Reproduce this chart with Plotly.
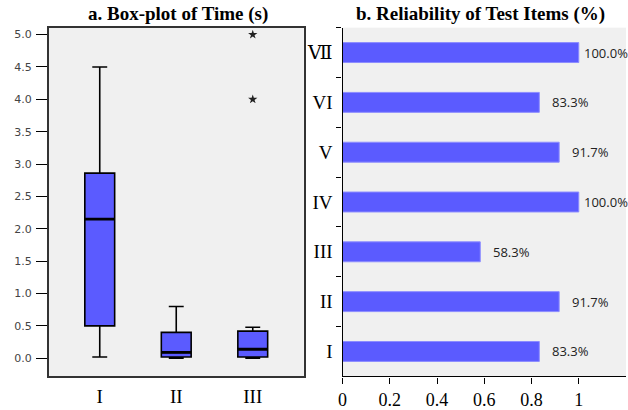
import plotly.graph_objects as go

# ---- data: panel a (box-plot of time, seconds) ----
box_cats = ["I", "II", "III"]
box_q1 = [0.50, 0.02, 0.02]
box_median = [2.15, 0.09, 0.14]
box_q3 = [2.86, 0.40, 0.42]
box_low = [0.02, 0.00, 0.00]
box_high = [4.50, 0.80, 0.48]
outlier_cats = ["III", "III"]
outlier_vals = [4.0, 5.0]

# ---- data: panel b (reliability of test items) ----
item_cats = ["I", "II", "III", "IV", "V", "VI", "Ⅶ"]
item_vals = [0.833, 0.917, 0.583, 1.000, 0.917, 0.833, 1.000]
item_labels = ["83.3%", "91.7%", "58.3%", "100.0%", "91.7%", "83.3%", "100.0%"]
x_ticks = [0, 0.2, 0.4, 0.6, 0.8, 1]
x_ticktext = ["0", "0.2", "0.4", "0.6", "0.8", "1"]

BLUE = "#5B5BFF"
SERIF = "Liberation Serif, DejaVu Serif, Times New Roman, serif"
BOX_W = 0.39
X_RANGE = [-0.667, 2.667]

W, H = 628, 410


def px(x):
    return x / W


def py(y):
    return 1 - y / H


fig = go.Figure()

fig.add_trace(go.Box(
    x=box_cats, q1=box_q1, median=box_median, q3=box_q3,
    lowerfence=box_low, upperfence=box_high,
    boxpoints=False, width=BOX_W, whiskerwidth=0.5,
    fillcolor=BLUE, line=dict(color="black", width=1.6),
    xaxis="x", yaxis="y", showlegend=False, hoverinfo="skip"))

# thicker median bars drawn on an overlaid numeric axis (category index positions)
med_x, med_y = [], []
for i, m in enumerate(box_median):
    med_x += [i - BOX_W / 2, i + BOX_W / 2, None]
    med_y += [m, m, None]
fig.add_trace(go.Scatter(
    x=med_x, y=med_y, mode="lines", line=dict(color="black", width=2.8),
    xaxis="x3", yaxis="y", showlegend=False, hoverinfo="skip"))

fig.add_trace(go.Scatter(
    x=outlier_cats, y=outlier_vals, mode="markers",
    marker=dict(symbol="star", size=7, color="#222"),
    xaxis="x", yaxis="y", showlegend=False))

fig.add_trace(go.Bar(
    x=item_vals, y=item_cats, orientation="h", width=0.4,
    marker=dict(color=BLUE, line=dict(color="#8C8CFF", width=1)),
    xaxis="x2", yaxis="y2", showlegend=False))

annotations = []
for c, v, t in zip(item_cats, item_vals, item_labels):
    annotations.append(dict(
        x=v, y=c, xref="x2", yref="y2", text=t, showarrow=False,
        xanchor="left", yanchor="middle", xshift=3 if v >= 0.999 else 11,
        font=dict(family="Open Sans, sans-serif", size=13, color="#222")))

annotations.append(dict(
    x=px(175), y=py(14), xref="paper", yref="paper",
    text="<b>a. Box-plot of Time (s)</b>", showarrow=False,
    xanchor="center", yanchor="middle",
    font=dict(family=SERIF, size=19, color="black")))
annotations.append(dict(
    x=px(480), y=py(14), xref="paper", yref="paper",
    text="<b>b. Reliability of Test Items (%)</b>", showarrow=False,
    xanchor="center", yanchor="middle",
    font=dict(family=SERIF, size=19, color="black")))

ydom = [py(381), py(28)]

fig.update_layout(
    width=W, height=H,
    margin=dict(l=0, r=0, t=0, b=0),
    paper_bgcolor="white",
    annotations=annotations,
    xaxis=dict(
        domain=[px(45), px(301.7)], type="category",
        range=X_RANGE, showgrid=False, zeroline=False,
        showline=True, mirror=True, linecolor="#333", linewidth=1.5,
        ticks="", ticklabelstandoff=2,
        tickfont=dict(family=SERIF, size=19, color="black"),
        anchor="y"),
    xaxis3=dict(
        domain=[px(45), px(301.7)], range=X_RANGE, overlaying="x",
        visible=False, anchor="y"),
    yaxis=dict(
        domain=ydom, range=[-0.279, 5.107],
        tickvals=[0, 0.5, 1, 1.5, 2, 2.5, 3, 3.5, 4, 4.5, 5],
        ticktext=["0.0", "0.5", "1.0", "1.5", "2.0", "2.5", "3.0", "3.5", "4.0", "4.5", "5.0"],
        showgrid=False, zeroline=False,
        showline=True, mirror=True, linecolor="#333", linewidth=1.5,
        ticks="outside", ticklen=11, tickcolor="black", tickwidth=1.3,
        ticklabelstandoff=2,
        tickfont=dict(family="DejaVu Sans, sans-serif", size=11, color="#444"),
        anchor="x"),
    xaxis2=dict(
        domain=[px(340.7), px(626)], range=[0, 1.2],
        tickvals=x_ticks, ticktext=x_ticktext,
        showgrid=False, zeroline=False,
        showline=True, linecolor="black", linewidth=1.3,
        ticks="outside", ticklen=6, tickcolor="black",
        tickfont=dict(family=SERIF, size=18, color="black"),
        ticklabelstandoff=1,
        anchor="y2"),
    yaxis2=dict(
        domain=ydom, range=[-0.5, 6.5], type="category",
        categoryorder="array", categoryarray=item_cats,
        showgrid=False, zeroline=False,
        showline=True, linecolor="black", linewidth=1.3,
        ticks="outside", ticklen=5, tickcolor="black", tickson="boundaries",
        ticklabelstandoff=5,
        tickfont=dict(family=SERIF, size=19, color="black"),
        anchor="x2"),
    plot_bgcolor="#F0F0F0",
)

fig.write_html("out.html", config={"displayModeBar": False},
               post_script="document.body.style.margin='0';")
